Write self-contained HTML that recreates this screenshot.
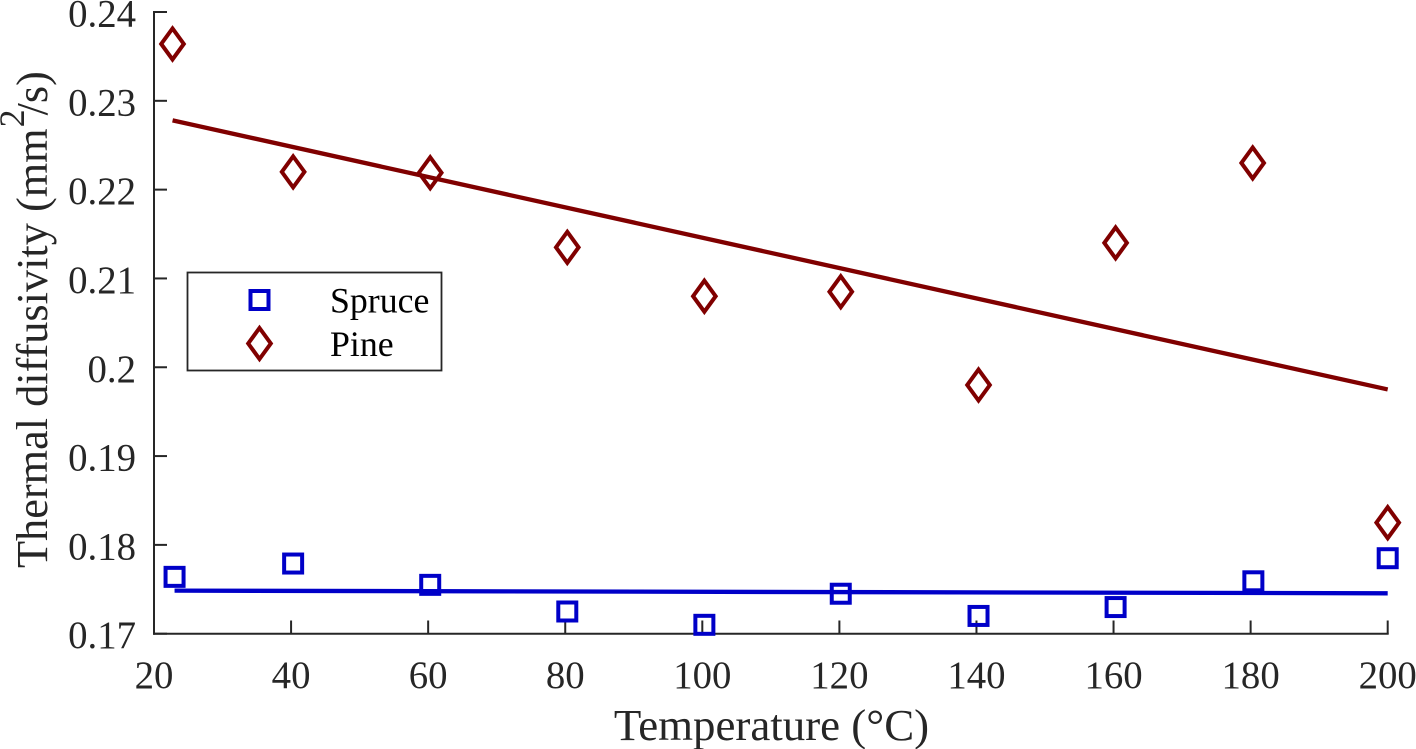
<!DOCTYPE html>
<html lang="en">
<head>
<meta charset="utf-8">
<title>Thermal diffusivity vs temperature</title>
<style>
html,body{margin:0;padding:0;background:#fff;width:1416px;height:749px;overflow:hidden}
svg{display:block;font-family:"Liberation Serif",serif}
</style>
</head>
<body>
<svg id="chart" xmlns="http://www.w3.org/2000/svg" width="1416" height="749" viewBox="0 0 1416 749">
  <rect x="0" y="0" width="1416" height="749" fill="#fff"/>
  <g id="axes"></g>
  <g id="marks"></g>
  <text x="771.5" y="740" font-size="44.9" fill="#262626" text-anchor="middle">Temperature (°C)</text>
  <text transform="translate(47,568) rotate(-90)" font-size="44.3" fill="#262626">Thermal diffusivity (mm<tspan font-size="36" dy="-23" dx="1">2</tspan><tspan dy="23" dx="-6">/s)</tspan></text>
  <g>
    <rect x="187.5" y="272.5" width="254" height="98" fill="#fff" stroke="#262626" stroke-width="1.8"/>
    <rect x="250.5" y="291" width="18" height="18" fill="none" stroke="#0000c8" stroke-width="4"/>
    <text x="330" y="312.5" font-size="35.8" fill="#000">Spruce</text>
    <path d="M259.5 328L270.8 343.5L259.5 359L248.2 343.5Z" fill="none" stroke="#800000" stroke-width="4"/>
    <text x="330" y="356" font-size="35.8" fill="#000">Pine</text>
  </g>
</svg>
<script>
const xTicks = [20, 40, 60, 80, 100, 120, 140, 160, 180, 200];
const yTicks = [0.17, 0.18, 0.19, 0.2, 0.21, 0.22, 0.23, 0.24];
const yTickLabels = ["0.17", "0.18", "0.19", "0.2", "0.21", "0.22", "0.23", "0.24"];
const spruceTemps = [23, 40.3, 60.3, 80.3, 100.3, 120.2, 140.3, 160.3, 180.4, 200];
const spruceValues = [0.1764, 0.1779, 0.1755, 0.1725, 0.1710, 0.1745, 0.1720, 0.1730, 0.1759, 0.1785];
const pineTemps = [22.7, 40.3, 60.3, 80.3, 100.3, 120.2, 140.3, 160.3, 180.3, 200];
const pineValues = [0.2364, 0.2220, 0.2219, 0.2135, 0.2080, 0.2085, 0.1980, 0.2140, 0.2230, 0.1825];
const trendTemps = [23, 200];
const spruceTrend = [0.17485, 0.17455];
const pineTrend = [0.2278, 0.1975];

const NS = 'http://www.w3.org/2000/svg';
const axesGroup = document.getElementById('axes');
const marksGroup = document.getElementById('marks');
const AXIS_COLOR = '#262626';
const SPRUCE_COLOR = '#0000c8';
const PINE_COLOR = '#800000';

function xScale(v) { return 154 + (v - 20) * (1387.7 - 154) / 180; }
function yScale(v) { return 633.7 - (v - 0.17) * (633.7 - 12) / 0.07; }

function make(tag, attrs, parent) {
  const el = document.createElementNS(NS, tag);
  for (const k in attrs) el.setAttribute(k, attrs[k]);
  parent.appendChild(el);
  return el;
}

const yAxisLine = make('line', {x1: 154, y1: 11, x2: 154, y2: 634.7, stroke: AXIS_COLOR, 'stroke-width': 2}, axesGroup);


const xAxisLine = make('line', {x1: 153, y1: 633.7, x2: 1388.7, y2: 633.7, stroke: AXIS_COLOR, 'stroke-width': 2}, axesGroup);



xTicks.forEach(function (t) {
  const x = xScale(t);
  const tick = make('line', {x1: x, y1: 633.7, x2: x, y2: 620.5, stroke: AXIS_COLOR, 'stroke-width': 2}, axesGroup);
  
  
  const label = make('text', {x: x, y: 688, 'font-size': 38.8, fill: AXIS_COLOR, 'text-anchor': 'middle'}, axesGroup);
  
  
  label.textContent = String(t);
});

yTicks.forEach(function (t, i) {
  const y = yScale(t);
  const tick = make('line', {x1: 154, y1: y, x2: 167, y2: y, stroke: AXIS_COLOR, 'stroke-width': 2}, axesGroup);
  
  
  const label = make('text', {x: 136, y: y + 14.5, 'font-size': 38.8, fill: AXIS_COLOR, 'text-anchor': 'end'}, axesGroup);
  
  
  label.textContent = yTickLabels[i];
});

const pineLine = make('line', {x1: xScale(trendTemps[0]) - 2, y1: yScale(pineTrend[0]), x2: xScale(trendTemps[1]), y2: yScale(pineTrend[1]), stroke: PINE_COLOR, 'stroke-width': 4.3}, marksGroup);


const spruceLine = make('line', {x1: xScale(trendTemps[0]), y1: yScale(spruceTrend[0]), x2: xScale(trendTemps[1]), y2: yScale(spruceTrend[1]), stroke: SPRUCE_COLOR, 'stroke-width': 4.3}, marksGroup);



spruceValues.forEach(function (v, i) {
  const cx = xScale(spruceTemps[i]);
  const cy = yScale(v);
  const m = make('rect', {x: cx - 9, y: cy - 9, width: 18, height: 18, fill: 'none', stroke: SPRUCE_COLOR, 'stroke-width': 4}, marksGroup);
  
  
});

pineValues.forEach(function (v, i) {
  const cx = xScale(pineTemps[i]);
  const cy = yScale(v);
  const d = 'M' + cx + ' ' + (cy - 15.5) + 'L' + (cx + 11.3) + ' ' + cy + 'L' + cx + ' ' + (cy + 15.5) + 'L' + (cx - 11.3) + ' ' + cy + 'Z';
  const m = make('path', {d: d, fill: 'none', stroke: PINE_COLOR, 'stroke-width': 4}, marksGroup);
  
  
});
</script>
</body>
</html>
